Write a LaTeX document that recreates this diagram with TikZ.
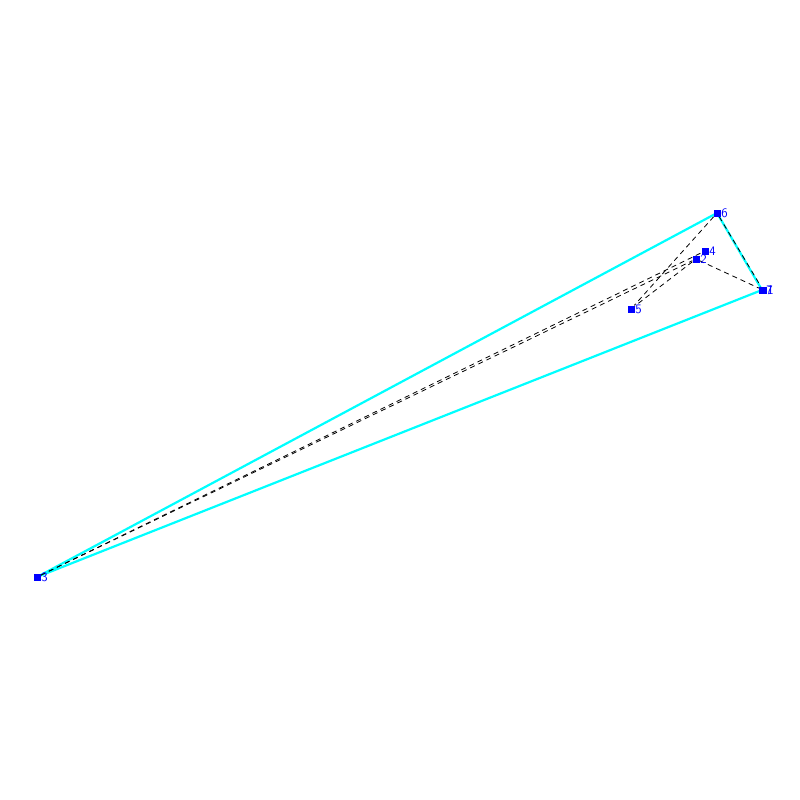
\documentclass[tikz,border=0pt]{standalone}
\usepackage{tikz}
\usetikzlibrary{positioning,backgrounds}
\definecolor{hullcyan}{RGB}{0,255,255}
\definecolor{vtxblue}{RGB}{0,0,255}

\begin{document}
\begin{tikzpicture}[x=1pt,y=-1pt,
  vtx/.style={draw=none,fill=vtxblue,minimum size=7pt,inner sep=0pt},
  num/.style={text=vtxblue,font=\fontsize{13}{13}\selectfont\sffamily,inner sep=0.5pt},
  hull/.style={hullcyan,line width=2.2pt},
  link/.style={black,line width=0.8pt,dash pattern=on 5pt off 4pt}
]
\useasboundingbox (0,0) rectangle (800,800);
\node[vtx] (v1) at (763,290) {};
\node[vtx] (v2) at (696,259) {};
\node[vtx] (v3) at (37,577) {};
\node[vtx] (v4) at (705,251) {};
\node[vtx] (v5) at (631,309) {};
\node[vtx] (v6) at (717,213) {};
\node[vtx] (v7) at (762,290) {};
\node[num,right=0pt of v1] {1};
\node[num,right=0pt of v2] {2};
\node[num,right=0pt of v3] {3};
\node[num,right=0pt of v4] {4};
\node[num,right=0pt of v5] {5};
\node[num,right=0pt of v6] {6};
\node[num,right=0pt of v7] {7};
\begin{scope}[on background layer]
\draw[hull] (v3.center)--(v6.center)--(v7.center)--cycle;
\draw[link] (v3)--(v2); \draw[link] (v3)--(v4);
\draw[link] (v6)--(v5); \draw[link] (v2)--(v5);
\draw[link] (v2)--(v1); \draw[link] (v6)--(v1);
\end{scope}
\end{tikzpicture}
\end{document}
